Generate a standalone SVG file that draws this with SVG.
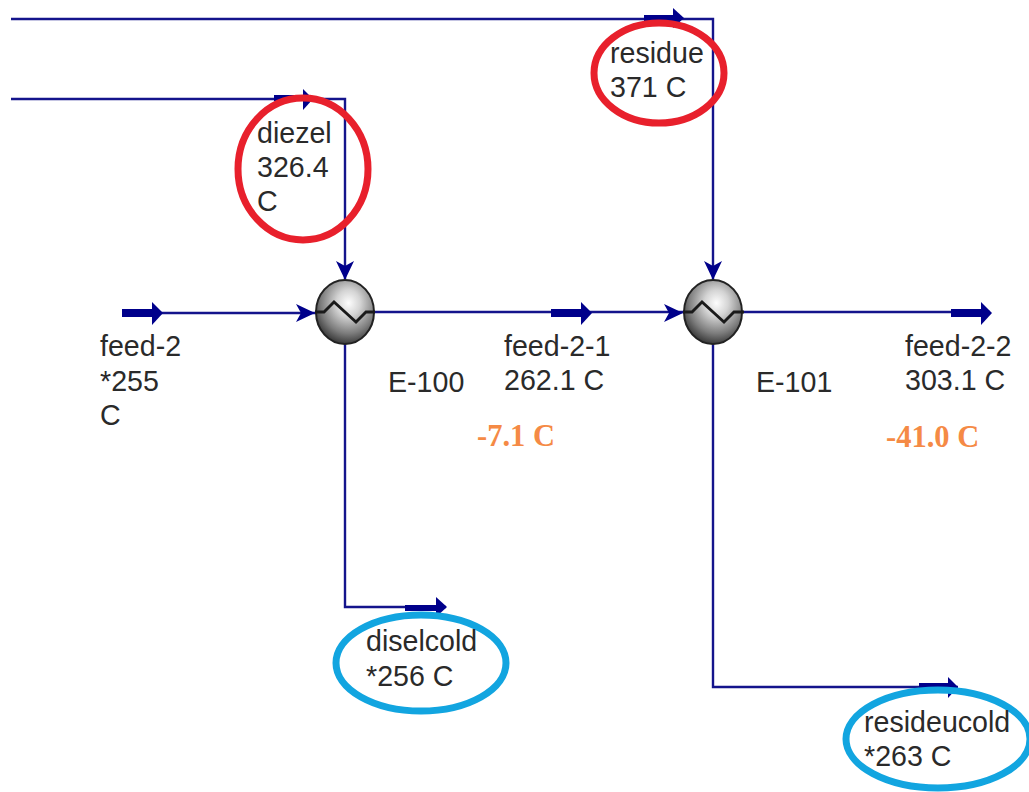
<svg xmlns="http://www.w3.org/2000/svg" width="1029" height="792" viewBox="0 0 1029 792">
<style>
.l{fill:none;stroke:#14148c;stroke-width:2.4}
.s{fill:none;stroke:#00008b;stroke-width:8}
.s2{fill:none;stroke:#00008b;stroke-width:6}
.a{fill:#00008b}
.t{font-family:"Liberation Sans",Arial,sans-serif;font-size:28.6px;fill:#2a2a2a}
.o{font-family:"Liberation Serif","Times New Roman",serif;font-size:30.5px;font-weight:bold;fill:#f58a45}
.r{fill:none;stroke:#e8202c;stroke-width:7}
.b{fill:none;stroke:#12a5e0;stroke-width:7}
.z{fill:none;stroke:#1a1a1a;stroke-width:2.8}
.c{fill:url(#g);stroke:#222;stroke-width:2}
</style>
<defs>
<radialGradient id="g" cx="0.56" cy="0.36" r="0.68">
<stop offset="0" stop-color="#fdfdfd"/><stop offset="0.3" stop-color="#d4d4d4"/><stop offset="0.7" stop-color="#7c7c7c"/><stop offset="1" stop-color="#2c2c2c"/>
</radialGradient>
<path id="h" class="a" d="M0 0l-19-9 5 9-5 9z"/>
</defs>
<rect width="1029" height="792" fill="#fff"/>
<g id="connectors">
<path class="l" d="M11 19H713V279"/>
<path class="l" d="M11 99H345V279"/>
<path class="l" d="M122 313H316"/>
<path class="l" d="M374 312H684"/>
<path class="l" d="M743 312H990"/>
<path class="l" d="M345 340V607H446"/>
<path class="l" d="M713 340V687H958"/>
<path class="s2" d="M644 18H676"/><path class="a" d="M684 18l-11-10v20z"/>
<path class="s2" d="M274 98H306"/><path class="a" d="M313 99l-10-10v21z"/>
<path class="s" d="M122 313H154"/><path class="a" d="M163 313l-11-11v23z"/>
<path class="s" d="M551 313H583"/><path class="a" d="M592 313l-11-11v23z"/>
<path class="s" d="M951 313H983"/><path class="a" d="M992 313l-11-11v23z"/>
<path class="s2" d="M405 608H438"/><path class="a" d="M447 607l-11-10v20z"/>
<path class="s2" d="M919 686H950"/><path class="a" d="M958 687l-10-10v21z"/>
<use href="#h" transform="translate(315 313)"/>
<use href="#h" transform="translate(683 313)"/>
<use href="#h" transform="translate(345 280) rotate(90)"/>
<use href="#h" transform="translate(713 280) rotate(90)"/>
</g>
<g id="E-100">
<ellipse class="c" cx="345" cy="312" rx="29" ry="32"/>
<path class="z" d="M315 312H324L334 302L356 322L366 312H375"/>
<text class="t" x="388" y="392">E-100</text>
<text class="o" x="477" y="446">-7.1 C</text>
</g>
<g id="E-101">
<ellipse class="c" cx="713" cy="312" rx="29" ry="32"/>
<path class="z" d="M683 312H692L702 302L724 322L734 312H744"/>
<text class="t" x="756" y="392">E-101</text>
<text class="o" x="886" y="447">-41.0 C</text>
</g>
<g id="feed-2">
<text class="t" x="100" y="356">feed-2</text>
<text class="t" x="100" y="391">*255</text>
<text class="t" x="100" y="425">C</text>
</g>
<g id="feed-2-1">
<text class="t" x="504" y="356">feed-2-1</text>
<text class="t" x="504" y="390">262.1 C</text>
</g>
<g id="feed-2-2">
<text class="t" x="905" y="356">feed-2-2</text>
<text class="t" x="905" y="390">303.1 C</text>
</g>
<g id="diezel">
<ellipse class="r" cx="303" cy="169" rx="65" ry="71"/>
<text class="t" x="257" y="143">diezel</text>
<text class="t" x="257" y="177">326.4</text>
<text class="t" x="257" y="211">C</text>
</g>
<g id="residue">
<ellipse class="r" cx="659" cy="73" rx="65" ry="50"/>
<text class="t" x="610" y="63">residue</text>
<text class="t" x="610" y="97">371 C</text>
</g>
<g id="diselcold">
<ellipse class="b" cx="421" cy="663" rx="85" ry="48"/>
<text class="t" x="366" y="651">diselcold</text>
<text class="t" x="366" y="686">*256 C</text>
</g>
<g id="resideucold">
<ellipse class="b" cx="938" cy="739" rx="92" ry="49"/>
<text class="t" x="864" y="732">resideucold</text>
<text class="t" x="864" y="766">*263 C</text>
</g>
</svg>
